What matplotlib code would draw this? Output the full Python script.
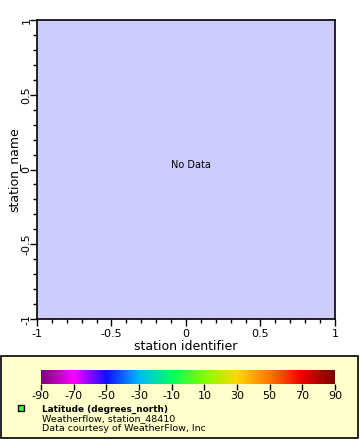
import numpy as np
import matplotlib.pyplot as plt
from matplotlib.colors import LinearSegmentedColormap
from matplotlib.patches import Rectangle
from matplotlib.ticker import MultipleLocator

plt.rcParams['axes.unicode_minus'] = False

# axis ranges (no data in the plot)
x_range = [-1, 1]
y_range = [-1, 1]
x_ticks = [-1, -0.5, 0, 0.5, 1]
y_ticks = [-1, -0.5, 0, 0.5, 1]
x_tick_labels = ['-1', '-0.5', '0', '0.5', '1']
y_tick_labels = ['-1', '-0.5', '0', '0.5', '1']

# colour bar
cbar_ticks = [-90, -70, -50, -30, -10, 10, 30, 50, 70, 90]
cbar_colors = ['#800080', '#FF00FF', '#1010FF', '#00B8FF', '#00FF60',
               '#80FF00', '#FFD800', '#FF7800', '#EE0000', '#800000']

legend_lines = ['Latitude (degrees_north)', 'Weatherflow, station_48410',
                'Data courtesy of WeatherFlow, Inc']

W, H = 360, 440
fig = plt.figure(figsize=(W / 100, H / 100), dpi=100)

def px(x0, y0, x1, y1):
    return [x0 / W, 1 - y1 / H, (x1 - x0) / W, (y1 - y0) / H]

ax = fig.add_axes(px(37, 20, 335, 319))
ax.set_facecolor('#CCCCFF')
ax.set_xlim(x_range)
ax.set_ylim(y_range)
ax.set_xticks(x_ticks)
ax.set_xticklabels(x_tick_labels)
ax.set_yticks(y_ticks)
ax.set_yticklabels(y_tick_labels, rotation=90, va='center')
ax.xaxis.set_minor_locator(MultipleLocator(0.1))
ax.yaxis.set_minor_locator(MultipleLocator(0.1))
ax.tick_params(which='major', direction='out', length=5, width=1, labelsize=8, pad=2)
ax.tick_params(axis='y', which='major', pad=-1)
ax.tick_params(which='minor', direction='out', length=3, width=1)
for s in ax.spines.values():
    s.set_linewidth(1.2)
ax.set_xlabel('station identifier', fontsize=9, labelpad=1)
ax.set_ylabel('station_name', fontsize=9, labelpad=1)
ax.text(0.03, 0.03, 'No Data', fontsize=7, ha='center', va='center')

# legend box
fig.patches.append(Rectangle((1 / W, 2 / H), 357 / W, 82 / H, transform=fig.transFigure,
                             facecolor='#FFFFCC', edgecolor='black', linewidth=1.2, zorder=-1))

cmap = LinearSegmentedColormap.from_list('rainbow2', list(zip(np.linspace(0, 1, len(cbar_colors)), cbar_colors)))
cax = fig.add_axes(px(41, 370, 335, 384))
grad = np.linspace(-90, 90, 512).reshape(1, -1)
cax.imshow(grad, aspect='auto', cmap=cmap, extent=[-90, 90, 0, 1], vmin=-90, vmax=90)
cax.set_xlim(-90, 90)
cax.set_xticks(cbar_ticks)
cax.set_xticklabels([str(t) for t in cbar_ticks])
cax.tick_params(axis='x', direction='out', length=4, width=1, labelsize=8, pad=1)
cax.set_yticks([])
for s in cax.spines.values():
    s.set_visible(False)

fig.patches.append(Rectangle((18 / W, 1 - 411 / H), 6 / W, 6 / H, transform=fig.transFigure,
                             facecolor='#33FF33', edgecolor='black', linewidth=1))
fig.text(42 / W, 1 - 409 / H, legend_lines[0], fontsize=6.4, fontweight='bold', va='center')
fig.text(42 / W, 1 - 419 / H, legend_lines[1], fontsize=6.8, va='center')
fig.text(42 / W, 1 - 428.5 / H, legend_lines[2], fontsize=6.8, va='center')

plt.savefig('out.png', dpi=100)
